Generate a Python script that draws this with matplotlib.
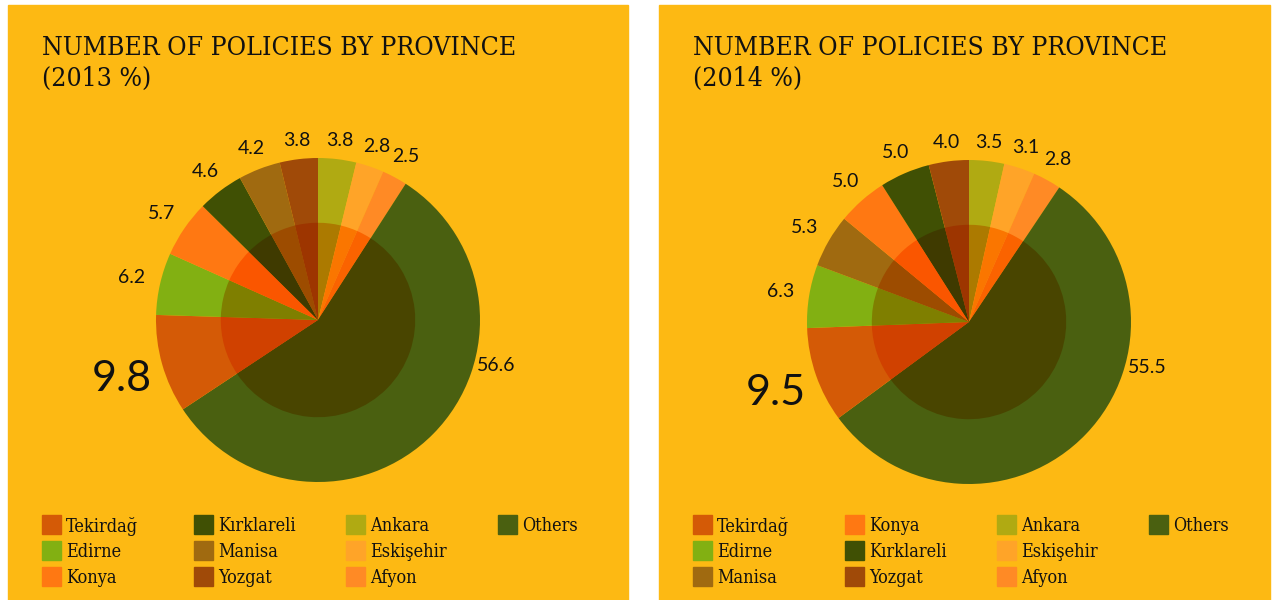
#Import relevant modules
import numpy as np
import matplotlib
matplotlib.use('Agg')
import matplotlib.pyplot as plt
from matplotlib.patches import Rectangle

#Data (percent of policies)
provinces_2013 = ['Tekirdağ', 'Edirne', 'Konya', 'Kırklareli', 'Manisa', 'Yozgat',
                  'Ankara', 'Eskişehir', 'Afyon', 'Others']
values_2013 = [9.8, 6.2, 5.7, 4.6, 4.2, 3.8, 3.8, 2.8, 2.5, 56.6]

provinces_2014 = ['Tekirdağ', 'Edirne', 'Manisa', 'Konya', 'Kırklareli', 'Yozgat',
                  'Ankara', 'Eskişehir', 'Afyon', 'Others']
values_2014 = [9.5, 6.3, 5.3, 5.0, 5.0, 4.0, 3.5, 3.1, 2.8, 55.5]

#Colours per province
colors = {
    'Tekirdağ': '#d45a06',
    'Edirne': '#82b012',
    'Konya': '#ff7812',
    'Kırklareli': '#405004',
    'Manisa': '#a06a10',
    'Yozgat': '#a04a08',
    'Ankara': '#b0aa12',
    'Eskişehir': '#ffa428',
    'Afyon': '#ff8a25',
    'Others': '#4a6010',
}

BG = '#fdb913'
W, H = 1275, 600
SERIF = dict(family='DejaVu Serif', stretch='condensed')
NUM_FONT = 'Lato'


def darker(c):
    #inner ring is a multiply-style shade of the outer colour
    r, g, b, a = matplotlib.colors.to_rgba(c)
    return (r * 0.98, g * 0.72, 0.0)


def px(x, y):
    #pixel coords (from top-left) to figure fraction
    return x / W, 1 - y / H


def draw_panel(fig, x0, x1, cx, cy, year, names, values):
    fig.add_artist(Rectangle(px(x0, 600), (x1 - x0) / W, 595 / H,
                             transform=fig.transFigure, color=BG, zorder=0))

    fig.text(*px(x0 + 34, 35), 'NUMBER OF POLICIES BY PROVINCE\n(%d %%)' % year,
             fontsize=19, color='#111111', va='top', ha='left',
             linespacing=1.3, **SERIF)

    #pie order, clockwise from 12 o'clock
    order = ['Ankara', 'Eskişehir', 'Afyon', 'Others'] + names[:6]
    vals = [values[names.index(n)] for n in order]
    cols = [colors[n] for n in order]

    R = 162.0
    size = 460.0
    ax = fig.add_axes([(cx - size / 2) / W, (H - cy - size / 2) / H, size / W, size / H])
    lim = size / 2 / R

    wedges, _ = ax.pie(vals, colors=cols, startangle=90, counterclock=False,
                       radius=1.0, wedgeprops=dict(linewidth=0))
    ax.pie(vals, colors=[darker(c) for c in cols], startangle=90, counterclock=False,
           radius=0.6, wedgeprops=dict(linewidth=0))
    ax.set_xlim(-lim, lim)
    ax.set_ylim(-lim, lim)
    ax.set_aspect('equal')
    ax.axis('off')

    for w, n, v in zip(wedges, order, vals):
        ang = np.deg2rad((w.theta1 + w.theta2) / 2)
        if n == 'Others':
            a = np.deg2rad(-16)
            ax.text(1.02 * np.cos(a), 1.02 * np.sin(a), '%.1f' % v, fontsize=14,
                    family=NUM_FONT, ha='left', va='center', color='#111111')
        elif n == 'Tekirdağ':
            r = 1.26
            ax.text(r * np.cos(ang), r * np.sin(ang), '%.1f' % v, fontsize=31,
                    family=NUM_FONT, ha='center', va='center_baseline',
                    color='#111111')
        else:
            r = 1.11 + 0.07 * abs(np.cos(ang))
            ax.text(r * np.cos(ang), r * np.sin(ang), '%.1f' % v, fontsize=14,
                    family=NUM_FONT, ha='center', va='center', color='#111111')

    #legend, filled column by column
    for i, n in enumerate(names):
        col, row = i // 3, i % 3
        lx = x0 + 34 + col * 152
        ly = 515 + row * 26
        fig.add_artist(Rectangle(px(lx, ly + 19), 19 / W, 19 / H,
                                 transform=fig.transFigure, color=colors[n]))
        fig.text(*px(lx + 24, ly + 11), n, fontsize=13, color='#111111',
                 va='center', ha='left', **SERIF)


fig = plt.figure(figsize=(12.75, 6), dpi=100, facecolor='white')
draw_panel(fig, 8, 628, 318, 320, 2013, provinces_2013, values_2013)
draw_panel(fig, 659, 1270, 969, 322, 2014, provinces_2014, values_2014)

plt.savefig('out.png', dpi=100, facecolor='white')
